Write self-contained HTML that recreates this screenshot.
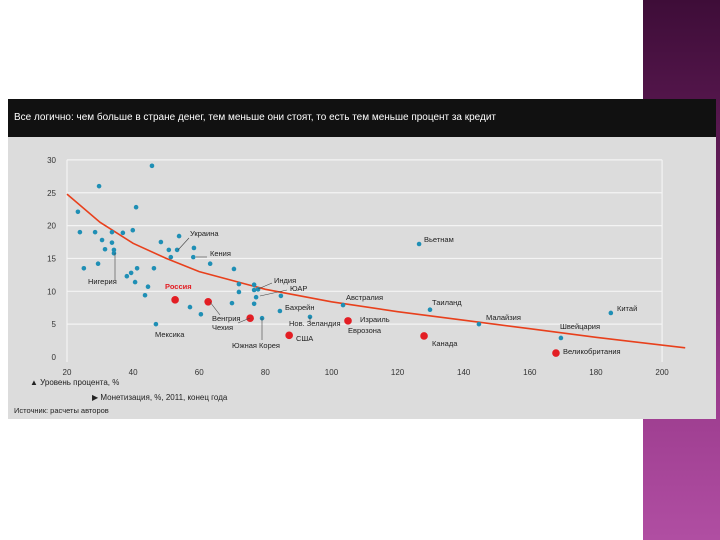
<!DOCTYPE html>
<html><head><meta charset="utf-8">
<style>
html,body{margin:0;padding:0;width:720px;height:540px;overflow:hidden;background:#fff;font-family:"Liberation Sans",sans-serif}
#side{position:absolute;left:643px;top:0;width:77px;height:540px;background:linear-gradient(180deg,#3e0d38 0%,#6a1f5f 40%,#9a3a8c 70%,#b04ea2 100%)}
#chart{position:absolute;left:0;top:0}
</style></head>
<body>
<div id="side"></div>
<svg id="chart" width="720" height="540">
<rect x="8" y="99" width="708" height="320" fill="#dcdcdc"/>
<rect x="8" y="99" width="708" height="38" fill="#111"/>
<text x="14" y="120" fill="#fff" font-size="10" textLength="482" lengthAdjust="spacingAndGlyphs">Все логично: чем больше в стране денег, тем меньше они стоят, то есть тем меньше процент за кредит</text>
<g id="grid"></g><g id="axes"></g><g id="trend"></g><g id="pts"></g><g id="lbls"></g>
<text x="30" y="385" font-size="8" fill="#222">▲ Уровень процента, %</text>
<text x="92" y="400" font-size="8" fill="#222">▶ Монетизация, %, 2011, конец года</text>
<text x="14" y="413" font-size="7.5" fill="#222">Источник: расчеты авторов</text>
</svg>
<script>
const xTicks=[20,40,60,80,100,120,140,160,180,200];
const yTicks=[0,5,10,15,20,25,30];
const blueX=[23.3,23.9,25.1,28.5,29.7,29.4,30.6,31.5,33.6,33.6,34.2,34.2,36.9,39.9,40.9,45.7,38.1,39.4,41.2,40.6,46.3,43.6,44.5,48.4,50.8,53.3,51.4,53.9,58.2,58.4,63.3,70.5,72.0,72.0,57.2,60.5,69.9,76.6,76.6,77.8,77.2,76.6,79.0,84.7,84.4,93.5,103.5,46.9,126.5,129.8,144.6,169.4,184.5];
const blueY=[22.1,19.0,13.5,19.0,26.0,14.2,17.8,16.4,19.0,17.4,15.8,16.3,18.9,19.3,22.8,29.1,12.3,12.8,13.5,11.4,13.5,9.4,10.7,17.5,16.3,16.3,15.2,18.4,15.2,16.6,14.2,13.4,11.1,9.9,7.6,6.5,8.2,11.0,10.2,10.3,9.1,8.1,5.9,9.3,7.0,6.1,7.9,5.0,17.2,7.2,5.0,2.9,6.7];
const redX=[52.7,62.7,75.4,87.2,105,128,167.9];
const redY=[8.7,8.4,5.9,3.3,5.5,3.2,0.6];
const trendX=[20,30,40,50,60,80,100,120,140,160,180,207];
const trendY=[24.8,20.5,17.3,15.0,13.0,10.3,8.4,6.9,5.6,4.3,3.0,1.4];
const X=v=>67+(v-20)*3.306, Y=v=>357-v*6.57;
const NS='http://www.w3.org/2000/svg';
function mk(t,a,p){const e=document.createElementNS(NS,t);for(const k in a)e.setAttribute(k,a[k]);p.appendChild(e);return e;}
const grid=document.getElementById('grid'),axes=document.getElementById('axes');
yTicks.forEach(v=>{if(v>0){const l=mk('line',{x1:X(20),x2:X(200),y1:Y(v),y2:Y(v),stroke:'#f4f4f4','stroke-width':1.2},grid);

}
const t=mk('text',{x:56,y:Y(v)+3,'font-size':8,'text-anchor':'end',fill:'#333'},axes);t.textContent=v;

});
[20,200].forEach(v=>{const l=mk('line',{x1:X(v),x2:X(v),y1:Y(30),y2:Y(0)+5,stroke:'#f4f4f4','stroke-width':1.2},grid);

});
xTicks.forEach(v=>{const t=mk('text',{x:X(v),y:375,'font-size':8,'text-anchor':'middle',fill:'#333'},axes);t.textContent=v;

});
let d='';trendX.forEach((v,i)=>{d+=(i?'L':'M')+X(v).toFixed(1)+','+Y(trendY[i]).toFixed(1);});
const tr=mk('path',{d:d,fill:'none',stroke:'#e8401c','stroke-width':1.6},document.getElementById('trend'));


const pts=document.getElementById('pts');
blueX.forEach((v,i)=>{const c=mk('circle',{cx:X(v),cy:Y(blueY[i]),r:2.3,fill:'#1f8fb5'},pts);

});
redX.forEach((v,i)=>{const c=mk('circle',{cx:X(v),cy:Y(redY[i]),r:3.8,fill:'#e31e24'},pts);

});
const lbls=document.getElementById('lbls');
const labelText=['Украина','Кения','Нигерия','Индия','ЮАР','Бахрейн','Нов. Зеландия','Южная Корея','Австралия','Мексика','Вьетнам','Таиланд','Малайзия','Швейцария','Китай','Россия','Венгрия','Чехия','США','Израиль','Еврозона','Канада','Великобритания'];
const labelPos=[[190,236],[210,256],[88,284],[274,283],[290,291],[285,310],[289,326],[232,348],[346,300],[155,337],[424,242],[432,305],[486,320],[560,329],[617,311],[165,289],[212,321],[212,330],[296,341],[360,322],[348,333],[432,346],[563,354]];
labelText.forEach((s,i)=>{const t=mk('text',{x:labelPos[i][0],y:labelPos[i][1],'font-size':7.5,fill:i==15?'#e31e24':'#222','font-weight':i==15?'bold':'normal'},lbls);t.textContent=s;

});
[[115,253,115,280],[178,250,189,238],[196,257,207,257],[258,289,272,283],[260,296,287,290],[262,318,262,340],[310,317,310,322],[210,302,220,315],[250,318,238,323]].forEach((l,i)=>{const e=mk('line',{x1:l[0],y1:l[1],x2:l[2],y2:l[3],stroke:'#444','stroke-width':0.6},lbls);

});
</script>
</body></html>
